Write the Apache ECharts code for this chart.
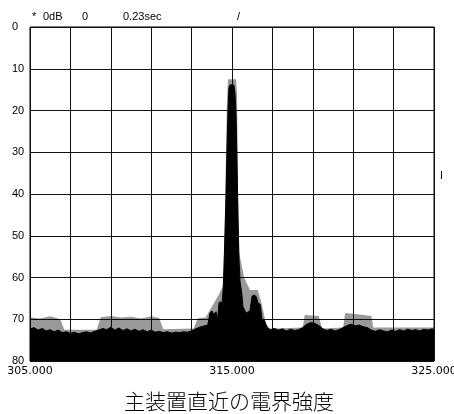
<!DOCTYPE html>
<html>
<head>
<meta charset="utf-8">
<script src="https://cdn.jsdelivr.net/npm/echarts@6/dist/echarts.min.js"></script>
<style>
html,body{margin:0;padding:0;background:#fff;}
#chart{width:454px;height:414px;}
</style>
</head>
<body>
<div id="chart"></div>
<script>
// Spectrum trace (frequency in MHz, level in dB below reference; 0 at top)
const freqMHz = [
  305.0,305.2,305.4,305.6,305.8,306.0,306.2,306.4,306.6,306.8,
  307.0,307.2,307.4,307.6,307.8,308.0,308.2,308.4,308.6,308.8,
  309.0,309.2,309.4,309.6,309.8,310.0,310.2,310.4,310.6,310.8,
  311.0,311.2,311.4,311.6,311.8,312.0,312.2,312.4,312.6,312.8,
  313.0,313.2,313.4,313.6,313.8,313.91,314.0,314.1,314.21,314.28,
  314.36,314.46,314.51,314.56,314.6,314.65,314.7,314.75,314.8,314.85,
  314.9,315.0,315.1,315.15,315.2,315.25,315.3,315.35,315.4,315.49,
  315.54,315.7,315.89,315.99,316.1,316.2,316.28,316.4,316.48,316.6,
  316.73,316.9,317.1,317.3,317.5,317.7,317.9,318.1,318.3,318.5,
  318.7,318.9,319.1,319.3,319.5,319.7,319.9,320.1,320.3,320.5,
  320.7,320.9,321.1,321.3,321.5,321.7,321.9,322.1,322.3,322.5,
  322.7,322.9,323.1,323.3,323.5,323.7,323.9,324.1,324.3,324.5,
  324.7,324.9,325.0
];
const levelDb = [
  72.4,72.0,72.6,72.2,72.8,72.5,73.0,72.6,73.2,73.0,
  73.4,73.1,73.5,73.2,73.0,73.3,72.9,72.6,72.2,72.5,
  71.9,72.6,72.1,72.7,72.3,72.8,72.4,72.9,72.5,73.0,
  72.6,73.1,72.9,73.2,73.0,73.3,73.1,73.2,73.0,73.1,
  72.8,72.3,71.9,71.6,71.4,68.5,68.0,68.8,68.2,70.5,
  66.0,65.8,66.5,63.0,58.0,50.0,41.0,30.0,20.0,14.5,
  13.9,13.8,14.0,16.0,21.0,33.0,46.0,56.0,61.0,64.0,
  67.0,68.5,68.0,64.5,64.2,64.6,66.0,66.5,69.8,70.2,
  72.0,72.5,72.2,72.6,72.3,72.8,72.4,72.7,72.5,72.0,
  71.2,70.8,71.0,71.5,72.3,72.7,72.4,72.8,72.5,72.0,
  71.5,71.2,71.6,71.4,71.8,72.0,72.6,72.9,72.5,72.8,
  73.0,72.6,72.9,72.5,72.8,72.4,72.7,72.5,72.8,72.4,
  72.6,72.3,72.5
];
// Max-hold speckle envelope
const holdFreq = [
  305.0,305.5,306.0,306.5,306.7,308.3,308.5,309.0,309.5,310.0,
  310.5,311.0,311.4,311.6,313.1,313.3,313.7,314.0,314.36,314.56,
  314.6,314.65,314.7,314.75,314.8,315.2,315.25,315.3,315.35,315.6,
  315.89,315.99,316.28,316.48,316.68,316.88,318.5,318.6,319.3,319.45,
  320.5,320.6,321.2,321.9,322.0,325.0
];
const holdLevel = [
  69.5,69.8,69.3,70.0,72.5,72.5,69.5,69.2,69.6,69.4,
  69.8,69.3,69.7,72.4,72.2,69.8,69.5,67.0,64.0,62.0,
  55.0,45.0,30.0,18.0,12.5,12.5,16.0,40.0,54.0,60.0,
  63.0,63.0,63.0,66.5,71.0,72.3,72.0,69.0,69.2,72.2,
  72.0,68.5,68.8,69.2,72.0,72.0
];
const xTickLabels = [305, 315, 325];
const yTicks = [0,10,20,30,40,50,60,70,80];
const headerTexts = [
  {t:'*', x:32}, {t:'0dB', x:43}, {t:'0', x:82}, {t:'0.23sec', x:123}, {t:'/', x:237}
];
const chartTitle = '主装置直近の電界強度';

const trace = freqMHz.map((f,i)=>[f, levelDb[i]]);
const hold = holdFreq.map((f,i)=>[f, holdLevel[i]]);

const chart = echarts.init(document.getElementById('chart'), null, {renderer:'canvas'});
chart.setOption({
  animation:false,
  backgroundColor:'#fff',
  grid:{left:30, right:20, top:27, bottom:53, show:true, borderColor:'#000', borderWidth:1,
        backgroundColor:'transparent', containLabel:false, outerBoundsMode:'none'},
  xAxis:{
    type:'value', min:305, max:325, interval:2,
    axisLine:{show:false}, axisTick:{show:false},
    splitLine:{show:true, lineStyle:{color:'#111', width:1}},
    axisLabel:{
      show:true, margin:5, color:'#000', fontSize:11, fontFamily:'DejaVu Sans',
      showMinLabel:true, showMaxLabel:true, hideOverlap:false,
      formatter:(v)=> xTickLabels.some(t=>Math.abs(t-v)<1e-6) ? v.toFixed(3) : ''
    }
  },
  yAxis:{
    type:'value', min:0, max:80, interval:10, inverse:true,
    axisLine:{show:false}, axisTick:{show:false},
    splitLine:{show:true, lineStyle:{color:'#111', width:1}},
    axisLabel:{
      margin:18, align:'left', color:'#000', fontSize:11, fontFamily:'Liberation Sans',
      formatter:(v)=> yTicks.includes(v) ? String(v) : ''
    }
  },
  series:[
    {
      type:'line', data:hold, symbol:'none', silent:true, z:2,
      lineStyle:{width:0, opacity:0},
      areaStyle:{color:'rgba(0,0,0,0.4)', origin:'end', opacity:1}
    },
    {
      type:'line', data:trace, symbol:'none', silent:true, z:3,
      lineStyle:{width:1, color:'#000'},
      areaStyle:{color:'#000', origin:'end', opacity:1}
    }
  ],
  graphic:[
    ...headerTexts.map(h=>({
      type:'text', left:h.x, top:11,
      style:{text:h.t, fill:'#000', font:'11px "Liberation Sans"'}
    })),
    {type:'line', shape:{x1:441.5, y1:171, x2:441.5, y2:179}, style:{stroke:'#000', lineWidth:1}},
    {
      type:'text', x:229, y:401,
      style:{text:chartTitle, fill:'#000', font:'300 21px "Noto Sans CJK JP"', textAlign:'center', textVerticalAlign:'middle'}
    }
  ]
});
</script>
</body>
</html>
